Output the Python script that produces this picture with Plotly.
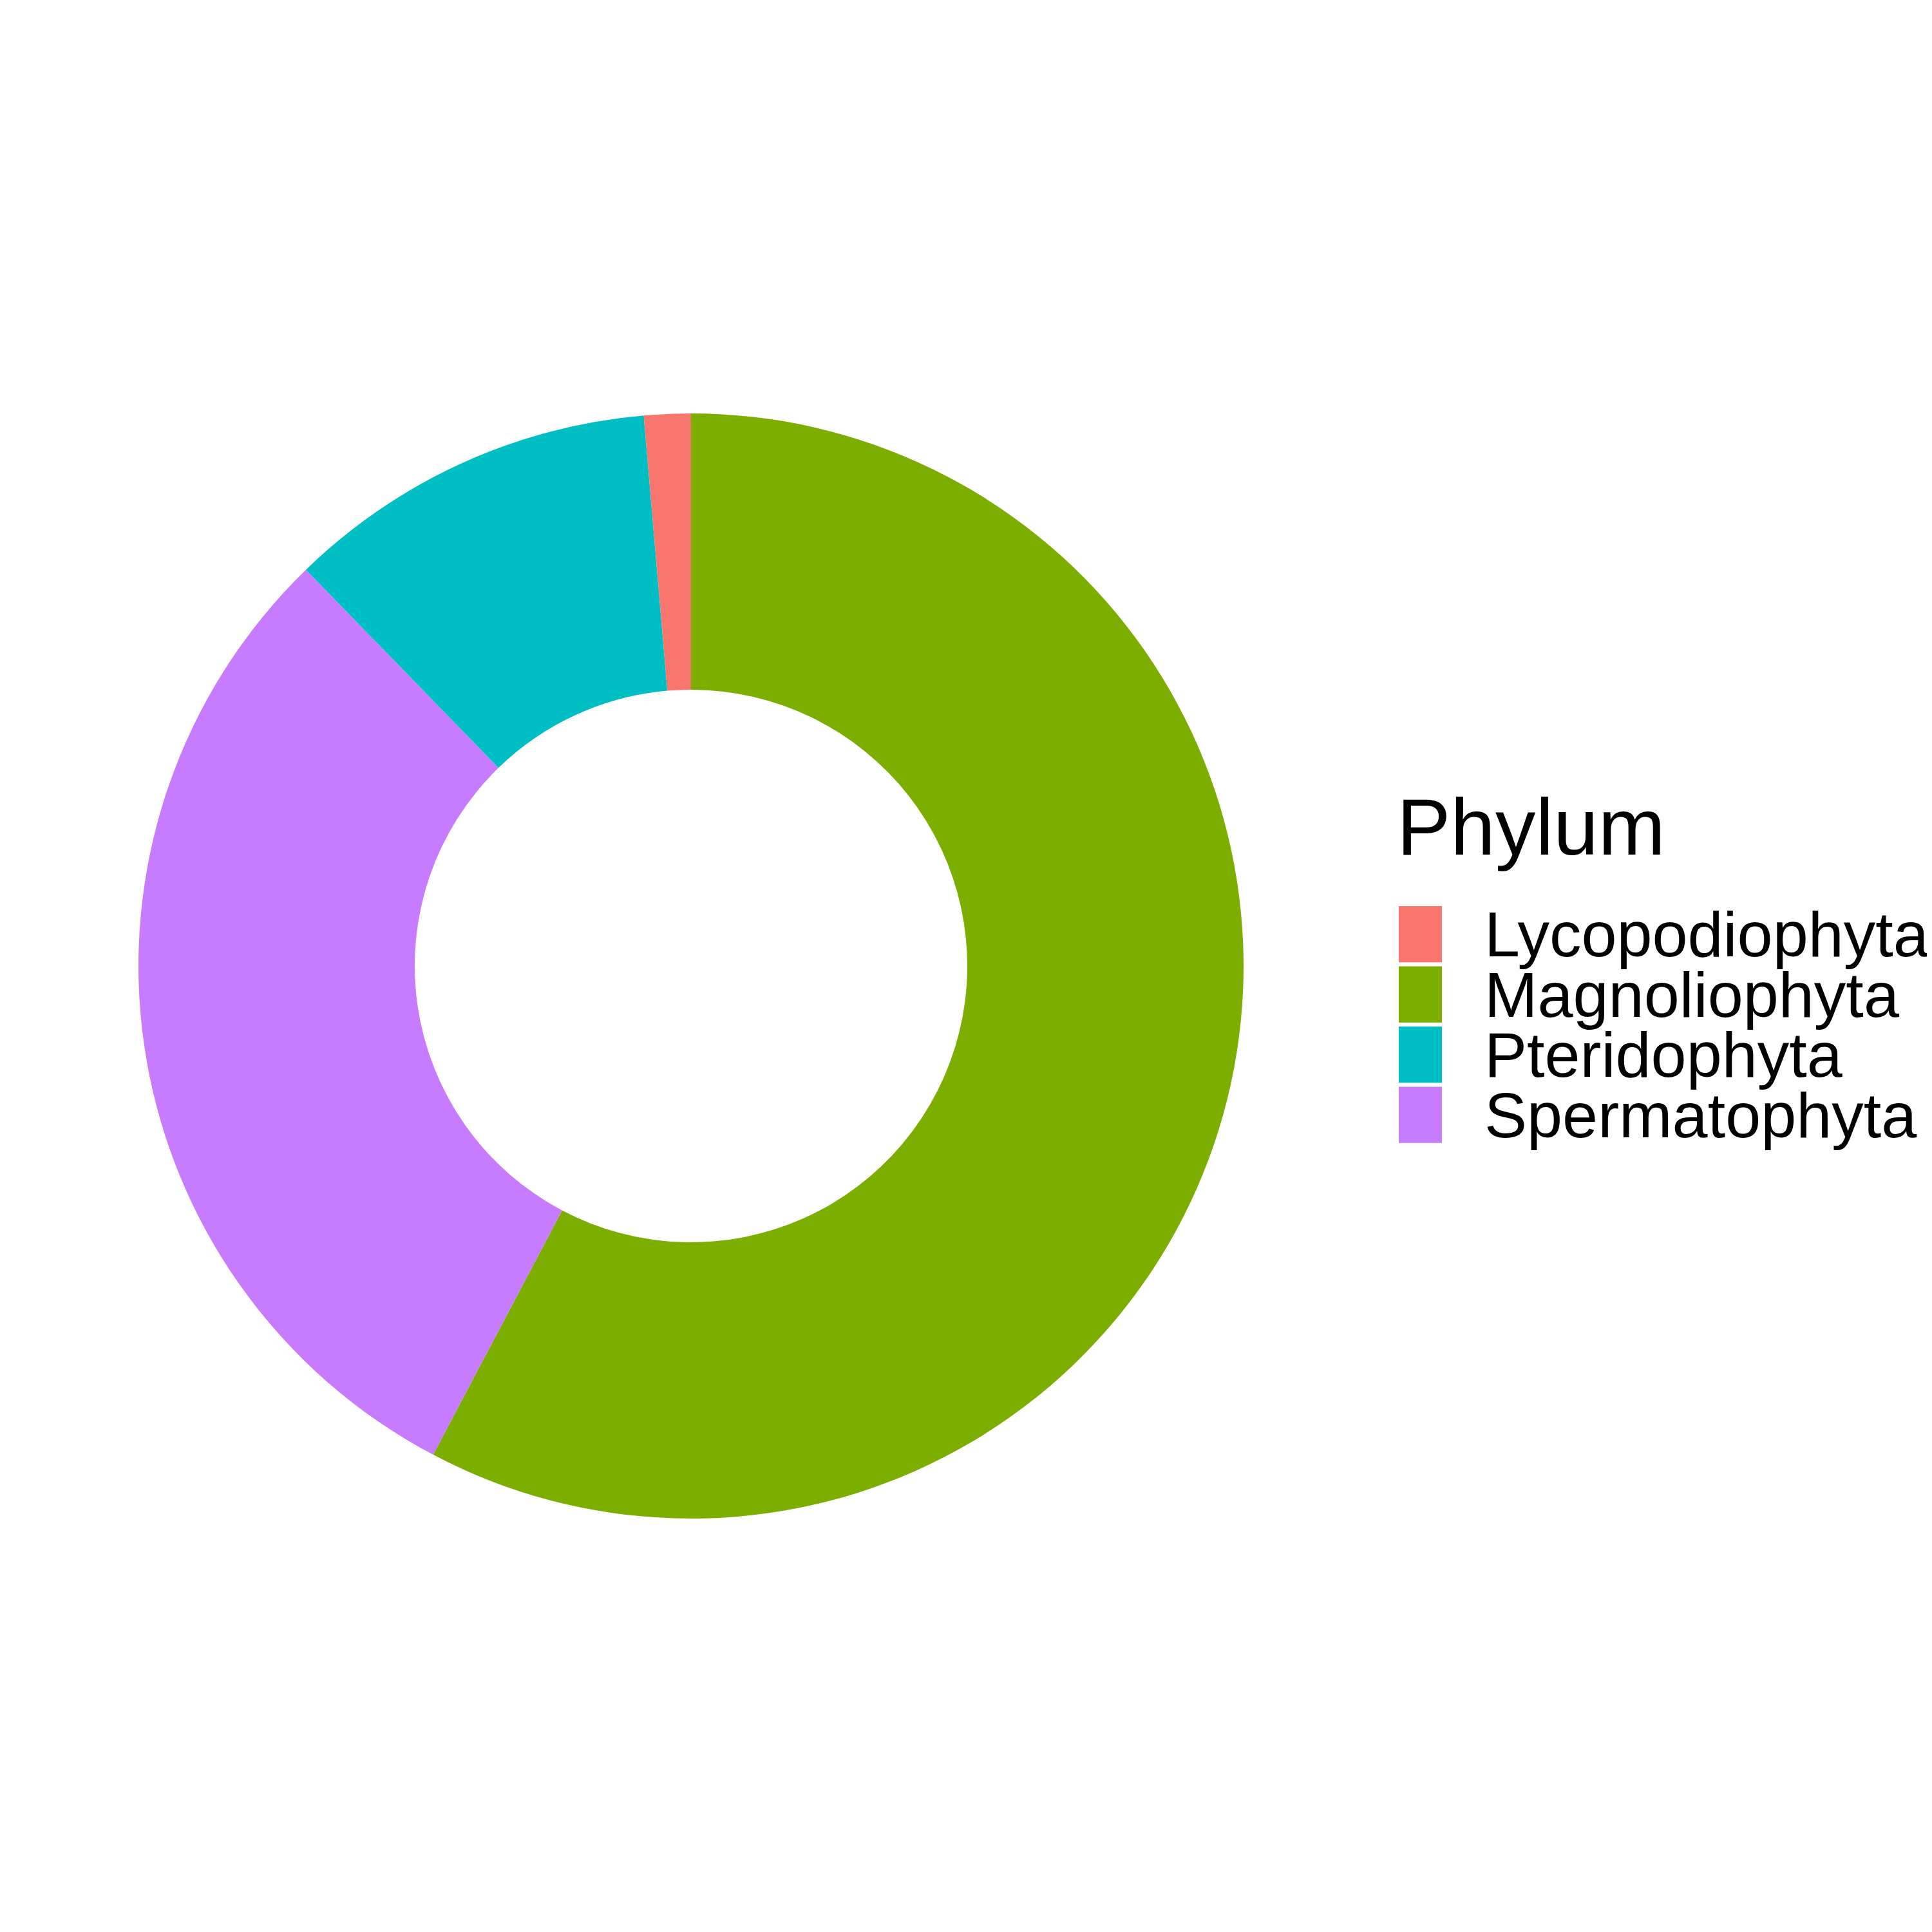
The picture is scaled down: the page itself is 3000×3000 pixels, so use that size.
import plotly.graph_objects as go

# Data
categories = ["Lycopodiophyta", "Magnoliophyta", "Pteridophyta", "Spermatophyta"]
counts = [3, 127, 24, 66]
colors = ["#F8766D", "#7CAE00", "#00BFC4", "#C77CFF"]
draw_order = ["Magnoliophyta", "Spermatophyta", "Pteridophyta", "Lycopodiophyta"]
legend_title = "Phylum"

W = H = 3000
OFF = 8  # page body margin compensation
FONT = "Liberation Sans, Arial, sans-serif"

idx = [categories.index(c) for c in draw_order]
cx, cy, R = 1073 - OFF, 1500 - OFF, 858

fig = go.Figure()
fig.add_trace(go.Pie(
    labels=[categories[i] for i in idx],
    values=[counts[i] for i in idx],
    marker=dict(colors=[colors[i] for i in idx], line=dict(width=0)),
    hole=0.5,
    sort=False,
    direction="clockwise",
    rotation=0,
    textinfo="none",
    hoverinfo="label+value+percent",
    showlegend=False,
    domain=dict(x=[(cx - R) / W, (cx + R) / W], y=[1 - (cy + R) / H, 1 - (cy - R) / H]),
))

shapes = []
annotations = []
key_x0, key_x1 = 2172 - OFF, 2239 - OFF
key_top0, pitch, key_h = 1407 - OFF, 93.5, 87.3
for i, (cat, col) in enumerate(zip(categories, colors)):
    y0 = key_top0 + i * pitch
    y1 = y0 + key_h
    shapes.append(dict(type="rect", xref="paper", yref="paper",
                       x0=key_x0 / W, x1=key_x1 / W, y0=1 - y1 / H, y1=1 - y0 / H,
                       fillcolor=col, line=dict(width=0)))
    annotations.append(dict(text=cat, xref="paper", yref="paper",
                            x=(2311 - OFF - 8) / W, y=1 - (y0 + key_h / 2) / H,
                            xanchor="left", yanchor="middle", showarrow=False,
                            font=dict(family=FONT, size=99, color="black")))

annotations.append(dict(text=legend_title, xref="paper", yref="paper",
                        x=(2177 - OFF - 10) / W, y=1 - (1283.6 - OFF) / H,
                        xanchor="left", yanchor="middle", showarrow=False,
                        font=dict(family=FONT, size=125, color="black")))

fig.update_layout(
    width=W, height=H,
    margin=dict(l=0, r=0, t=0, b=0),
    paper_bgcolor="white", plot_bgcolor="white",
    shapes=shapes, annotations=annotations,
    showlegend=False,
)

fig.write_html("out.html")
